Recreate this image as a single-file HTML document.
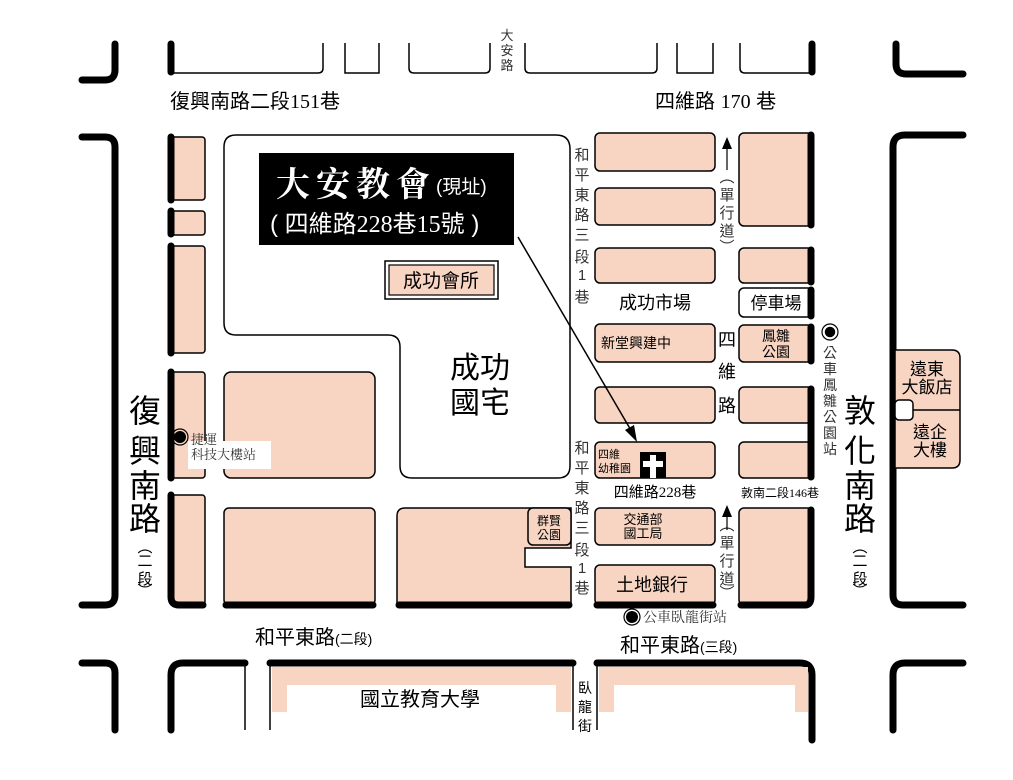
<!DOCTYPE html>
<html><head><meta charset="utf-8"><style>
html,body{margin:0;padding:0;background:#fff;}
svg{display:block;}
text{font-family:"Liberation Sans","Noto Sans CJK TC",sans-serif;}
.s{font-family:"Liberation Serif","Noto Serif CJK SC",serif;}
</style></head><body>
<svg width="1013" height="780" viewBox="0 0 1013 780" xmlns="http://www.w3.org/2000/svg">
<g fill="none" stroke="#000" stroke-width="7" stroke-linecap="round">
<!-- top row -->
<path d="M82 80 H105 Q115 80 115 70 V44"/>
<path d="M171 44 V72"/>
<path d="M896 44 V64 Q896 74 906 74 H963"/>
<path d="M812 44 V72"/>
<!-- left bracket middle -->
<path d="M82 137 H105 Q115 137 115 147 V595 Q115 605 105 605 H82"/>
<!-- right bracket -->
<path d="M963 135 H905 Q893 135 893 147 V595 Q893 605 903 605 H963"/>
<!-- bottom -->
<path d="M82 663 H105 Q115 663 115 673 V730"/>
<path d="M171 730 V675 Q171 663 183 663 H245"/>
<path d="M270 663 H573"/>
<path d="M597 663 H800 Q812 663 812 675 V740"/>
<path d="M893 730 V675 Q893 663 905 663 H963"/>
</g>
<g fill="none" stroke="#000" stroke-width="1.5">
<path d="M171 73 H318 Q323 73 323 68 V43"/>
<path d="M345 43 V73 H379 V43"/>
<path d="M409 43 V68 Q409 73 414 73 H485 Q490 73 490 68 V43"/>
<path d="M525 43 V68 Q525 73 530 73 H652 Q657 73 657 68 V43"/>
<path d="M677 43 V73 H713 V43"/>
<path d="M740 43 V68 Q740 73 745 73 H812"/>
<path d="M245 663 V730"/>
<path d="M270 663 V730"/>
<path d="M573 663 V730"/>
<path d="M597 663 V730"/>
</g>
<!-- bottom pink bands -->
<path d="M272 667 H571 V712 H556 V685 H287 V712 H272 Z" fill="#f8d5c2"/>
<path d="M599 667 H808 V712 H795 V685 H614 V712 H599 Z" fill="#f8d5c2"/>
<!-- big white block -->
<path d="M236 135 H556 Q570 135 570 149 V466 Q570 478 558 478 H412 Q400 478 400 466 V347 Q400 335 388 335 H236 Q224 335 224 323 V147 Q224 135 236 135 Z" fill="#fff" stroke="#000" stroke-width="1.5"/>
<!-- pink blocks -->
<g fill="#f8d5c2" stroke="#000" stroke-width="1.5">
<rect x="171" y="137" width="34" height="63" rx="3"/>
<rect x="171" y="211" width="34" height="24" rx="3"/>
<rect x="171" y="246" width="34" height="107" rx="3"/>
<rect x="171" y="372" width="34" height="106" rx="3"/>
<rect x="171" y="495" width="34" height="110" rx="3"/>
<rect x="224" y="372" width="151" height="106" rx="7"/>
<rect x="224" y="508" width="151" height="97" rx="5"/>
<path d="M405 508 H571 V548 H525 V567 H571 V605 H397 V516 Q397 508 405 508 Z"/>
<rect x="528" y="508" width="43" height="37" rx="5"/>
<rect x="595" y="133" width="120" height="38" rx="5"/>
<rect x="595" y="188" width="120" height="37" rx="5"/>
<rect x="595" y="248" width="120" height="35" rx="5"/>
<rect x="595" y="324" width="120" height="38" rx="5"/>
<rect x="595" y="387" width="120" height="36" rx="5"/>
<rect x="595" y="442" width="120" height="36" rx="5"/>
<rect x="595" y="508" width="120" height="37" rx="5"/>
<rect x="595" y="565" width="120" height="40" rx="5"/>
<rect x="739" y="133" width="74" height="93" rx="5"/>
<rect x="739" y="248" width="74" height="35" rx="5"/>
<rect x="739" y="288" width="74" height="29" rx="5" fill="#fff"/>
<rect x="739" y="325" width="74" height="37" rx="5"/>
<rect x="739" y="387" width="74" height="36" rx="5"/>
<rect x="739" y="442" width="74" height="36" rx="5"/>
<rect x="739" y="508" width="74" height="97" rx="5"/>
<path d="M895 350 H952 Q960 350 960 358 V460 Q960 468 952 468 H895 Z"/>
<line x1="895" y1="410" x2="960" y2="410"/>
<rect x="895" y="400" width="18" height="20" rx="4" fill="#fff"/>
</g>
<!-- thick edges -->
<g stroke="#000" stroke-width="7" stroke-linecap="round" fill="none">
<line x1="171" y1="137" x2="171" y2="200"/>
<line x1="171" y1="211" x2="171" y2="234"/>
<line x1="171" y1="246" x2="171" y2="353"/>
<line x1="171" y1="372" x2="171" y2="478"/>
<path d="M171 495 V597 Q171 605 179 605 H203"/>
<line x1="226" y1="605" x2="373" y2="605"/>
<line x1="399" y1="605" x2="569" y2="605"/>
<line x1="597" y1="605" x2="713" y2="605"/>
<path d="M741 605 H805 Q811 605 811 597 V510"/>
<line x1="811" y1="135" x2="811" y2="225"/>
<line x1="811" y1="250" x2="811" y2="282"/>
<line x1="811" y1="290" x2="811" y2="316"/>
<line x1="811" y1="327" x2="811" y2="361"/>
<line x1="811" y1="389" x2="811" y2="477"/>
</g>
<!-- black title box -->
<rect x="259" y="153" width="255" height="92" fill="#000"/>
<text x="276" y="196" fill="#fff" font-size="34" font-weight="bold" letter-spacing="6" class="s">大安教會</text>
<text x="436" y="193" fill="#fff" font-size="19">(現址)</text>
<text x="270" y="232" fill="#fff" font-size="24">( 四維路<tspan class="s">228</tspan>巷<tspan class="s">15</tspan>號 )</text>
<!-- 成功會所 -->
<rect x="385" y="261" width="113" height="38" fill="#fff" stroke="#000" stroke-width="1.5"/>
<rect x="389" y="265" width="105" height="30" fill="#f8d5c2" stroke="#000" stroke-width="1.2"/>
<text x="441" y="287" font-size="19" text-anchor="middle">成功會所</text>
<text x="480" y="378" font-size="30" text-anchor="middle">成功</text>
<text x="480" y="413" font-size="30" text-anchor="middle">國宅</text>
<!-- arrow -->
<line x1="518" y1="237" x2="632" y2="432" stroke="#000" stroke-width="1.5"/>
<path d="M637 442 L625 430 L634 425 Z" fill="#000"/>
<!-- cross -->
<rect x="640" y="452" width="26" height="26" fill="#000"/>
<path d="M650 455 H656 V461 H663 V467 H656 V478 H650 V467 H643 V461 H650 Z" fill="#fff"/>
<!-- labels -->
<text x="170" y="108" font-size="20">復興南路二段<tspan class="s">151</tspan>巷</text>
<text x="655" y="108" font-size="20">四維路 <tspan class="s">170</tspan> 巷</text>
<g font-size="13" text-anchor="middle" fill="#333"><text x="507" y="40">大</text><text x="507" y="55">安</text><text x="507" y="70">路</text></g>
<g font-size="15" text-anchor="middle" class="s" fill="#333">
<text x="582" y="160">和</text><text x="582" y="180">平</text><text x="582" y="200">東</text><text x="582" y="220">路</text><text x="582" y="240">三</text><text x="582" y="262">段</text><text x="582" y="280">1</text><text x="582" y="302">巷</text>
<text x="582" y="453">和</text><text x="582" y="473">平</text><text x="582" y="493">東</text><text x="582" y="513">路</text><text x="582" y="533">三</text><text x="582" y="555">段</text><text x="582" y="573">1</text><text x="582" y="593">巷</text>
<text x="727" y="182">︵</text><text x="727" y="200">單</text><text x="727" y="218">行</text><text x="727" y="236">道</text><text x="727" y="252">︶</text>
<text x="727" y="530">︵</text><text x="727" y="548">單</text><text x="727" y="566">行</text><text x="727" y="584">道</text><text x="727" y="598">︶</text>
</g>
<g stroke="#000" stroke-width="1.2"><line x1="727" y1="148" x2="727" y2="170"/><line x1="727" y1="515" x2="727" y2="530"/></g>
<path d="M727 137 L722 149 H732 Z M727 505 L722 517 H732 Z" fill="#000"/>
<g font-size="18" text-anchor="middle"><text x="727" y="346">四</text><text x="727" y="378">維</text><text x="727" y="412">路</text></g>
<text x="655" y="309" font-size="18" text-anchor="middle">成功市場</text>
<text x="776" y="309" font-size="17" text-anchor="middle">停車場</text>
<text x="636" y="348" font-size="14" text-anchor="middle">新堂興建中</text>
<text x="776" y="341" font-size="14" text-anchor="middle">鳳雛</text><text x="776" y="357" font-size="14" text-anchor="middle">公園</text>
<text x="598" y="458" font-size="11">四維</text><text x="598" y="472" font-size="11">幼稚園</text>
<text x="655" y="497" font-size="15" text-anchor="middle">四維路<tspan class="s">228</tspan>巷</text>
<text x="780" y="497" font-size="12" text-anchor="middle">敦南二段<tspan class="s">146</tspan>巷</text>
<text x="643" y="524" font-size="13" text-anchor="middle">交通部</text><text x="643" y="538" font-size="13" text-anchor="middle">國工局</text>
<text x="652" y="591" font-size="18" text-anchor="middle">土地銀行</text>
<text x="549" y="525" font-size="12" text-anchor="middle">群賢</text><text x="549" y="539" font-size="12" text-anchor="middle">公園</text>
<circle cx="830" cy="332" r="6" fill="#000" stroke="#fff" stroke-width="1.5"/><circle cx="830" cy="332" r="8" fill="none" stroke="#000" stroke-width="1.2"/>
<g font-size="14" text-anchor="middle" fill="#333" class="s"><text x="830" y="358">公</text><text x="830" y="374">車</text><text x="830" y="390">鳳</text><text x="830" y="406">雛</text><text x="830" y="422">公</text><text x="830" y="438">園</text><text x="830" y="454">站</text></g>
<g font-size="32" text-anchor="middle"><text x="860" y="422">敦</text><text x="860" y="462">化</text><text x="860" y="497">南</text><text x="860" y="530">路</text>
<text x="145" y="422">復</text><text x="145" y="462">興</text><text x="145" y="497">南</text><text x="145" y="530">路</text></g>
<g font-size="15" text-anchor="middle"><text x="860" y="552">︵</text><text x="860" y="566">二</text><text x="860" y="584">段</text><text x="860" y="596">︶</text>
<text x="145" y="552">︵</text><text x="145" y="566">二</text><text x="145" y="584">段</text><text x="145" y="596">︶</text></g>
<text x="927" y="375" font-size="17" text-anchor="middle">遠東</text><text x="927" y="393" font-size="17" text-anchor="middle">大飯店</text>
<text x="930" y="438" font-size="17" text-anchor="middle">遠企</text><text x="930" y="456" font-size="17" text-anchor="middle">大樓</text>
<rect x="188" y="441" width="83" height="28" fill="#fff"/>
<circle cx="180" cy="437" r="6" fill="#000"/><circle cx="180" cy="437" r="8" fill="none" stroke="#000" stroke-width="1.2"/>
<text x="191" y="444" font-size="13" class="s" fill="#333">捷運</text><text x="191" y="459" font-size="13" class="s" fill="#333">科技大樓站</text>
<circle cx="632" cy="617" r="6" fill="#000"/><circle cx="632" cy="617" r="8" fill="none" stroke="#000" stroke-width="1.2"/>
<text x="643" y="622" font-size="14" class="s" fill="#333">公車臥龍街站</text>
<text x="255" y="644" font-size="20">和平東路<tspan font-size="14">(二段)</tspan></text>
<text x="620" y="652" font-size="20">和平東路<tspan font-size="14">(三段)</tspan></text>
<text x="420" y="706" font-size="20" text-anchor="middle">國立教育大學</text>
<g font-size="14" text-anchor="middle"><text x="585" y="693">臥</text><text x="585" y="712">龍</text><text x="585" y="731">街</text></g>
</svg>
</body></html>
